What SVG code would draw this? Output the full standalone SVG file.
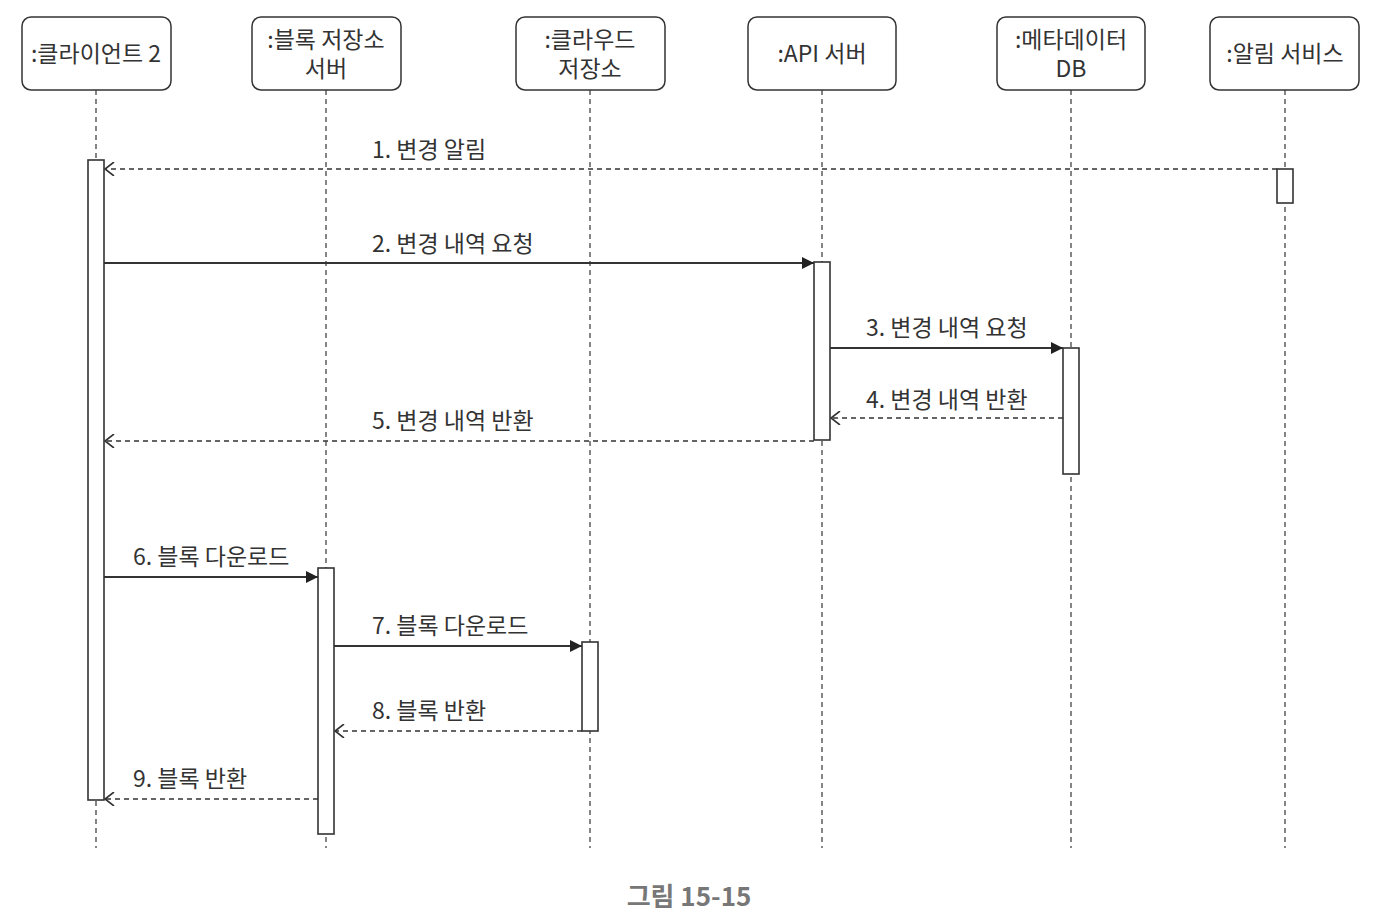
<svg xmlns="http://www.w3.org/2000/svg" width="1376" height="922" viewBox="0 0 1376 922">
<defs>
<style>
.box{fill:#fff;stroke:#333;stroke-width:1.5}
.life{stroke:#444;stroke-width:1.3;stroke-dasharray:5,4;fill:none}
.act{fill:#fff;stroke:#333;stroke-width:1.6}
.t{font-family:"Noto Sans CJK KR","Noto Sans",sans-serif;font-size:23px;fill:#333}
.c{text-anchor:middle}
.sol{stroke:#333;stroke-width:1.8;fill:none}
.dash{stroke:#333;stroke-width:1.4;stroke-dasharray:5,4;fill:none}
</style>
<marker id="fill" viewBox="0 0 12 12" refX="12" refY="6" markerWidth="12" markerHeight="12" markerUnits="userSpaceOnUse" orient="auto">
<path d="M0,0 L12,6 L0,12 Z" fill="#222"/>
</marker>
<marker id="open" viewBox="0 0 12 14" refX="11" refY="7" markerWidth="12" markerHeight="14" markerUnits="userSpaceOnUse" orient="auto">
<path d="M2,0 L11,7 L2,14" fill="none" stroke="#333" stroke-width="1.6"/>
</marker>
</defs>
<rect width="1376" height="922" fill="#fff"/>

<g id="lifelines">
<line class="life" x1="96" y1="90" x2="96" y2="848"/>
<line class="life" x1="326" y1="90" x2="326" y2="848"/>
<line class="life" x1="590" y1="90" x2="590" y2="848"/>
<line class="life" x1="822" y1="90" x2="822" y2="848"/>
<line class="life" x1="1071" y1="90" x2="1071" y2="848"/>
<line class="life" x1="1285" y1="90" x2="1285" y2="848"/>
</g>

<g id="client2">
<rect class="box" x="22" y="17" width="149" height="73" rx="9"/>
<text class="t c" x="96" y="62">:클라이언트 2</text>
<rect class="act" x="88" y="160" width="16" height="640"/>
</g>
<g id="blockserver">
<rect class="box" x="252" y="17" width="149" height="73" rx="9"/>
<text class="t c" x="326" y="48">:블록 저장소<tspan x="326" dy="29">서버</tspan></text>
<rect class="act" x="318" y="568" width="16" height="266"/>
</g>
<g id="cloudstorage">
<rect class="box" x="516" y="17" width="149" height="73" rx="9"/>
<text class="t c" x="590" y="48">:클라우드<tspan x="590" dy="29">저장소</tspan></text>
<rect class="act" x="582" y="642" width="16" height="89"/>
</g>
<g id="apiserver">
<rect class="box" x="748" y="17" width="148" height="73" rx="9"/>
<text class="t c" x="822" y="62">:API 서버</text>
<rect class="act" x="814" y="262" width="16" height="178"/>
</g>
<g id="metadb">
<rect class="box" x="997" y="17" width="148" height="73" rx="9"/>
<text class="t c" x="1071" y="48">:메타데이터<tspan x="1071" dy="29">DB</tspan></text>
<rect class="act" x="1063" y="348" width="16" height="126"/>
</g>
<g id="notify">
<rect class="box" x="1210" y="17" width="149" height="73" rx="9"/>
<text class="t c" x="1285" y="62">:알림 서비스</text>
<rect class="act" x="1277" y="169" width="16" height="34"/>
</g>

<g id="connectors">
<line class="dash" x1="1277" y1="169" x2="105" y2="169" marker-end="url(#open)"/>
<text class="t" x="372" y="158">1. 변경 알림</text>
<line class="sol" x1="104" y1="263" x2="814" y2="263" marker-end="url(#fill)"/>
<text class="t" x="372" y="252">2. 변경 내역 요청</text>
<line class="sol" x1="830" y1="348" x2="1063" y2="348" marker-end="url(#fill)"/>
<text class="t" x="866" y="336">3. 변경 내역 요청</text>
<line class="dash" x1="1063" y1="418" x2="831" y2="418" marker-end="url(#open)"/>
<text class="t" x="866" y="408">4. 변경 내역 반환</text>
<line class="dash" x1="814" y1="441" x2="105" y2="441" marker-end="url(#open)"/>
<text class="t" x="372" y="429">5. 변경 내역 반환</text>
<line class="sol" x1="104" y1="577" x2="318" y2="577" marker-end="url(#fill)"/>
<text class="t" x="133" y="565">6. 블록 다운로드</text>
<line class="sol" x1="334" y1="646" x2="582" y2="646" marker-end="url(#fill)"/>
<text class="t" x="372" y="634">7. 블록 다운로드</text>
<line class="dash" x1="582" y1="731" x2="335" y2="731" marker-end="url(#open)"/>
<text class="t" x="372" y="719">8. 블록 반환</text>
<line class="dash" x1="318" y1="799" x2="105" y2="799" marker-end="url(#open)"/>
<text class="t" x="133" y="787">9. 블록 반환</text>
</g>

<text x="689" y="906" text-anchor="middle" style="font-family:'Noto Sans CJK KR','Noto Sans',sans-serif;font-size:26px;font-weight:bold;fill:#777">그림 15-15</text>
</svg>
